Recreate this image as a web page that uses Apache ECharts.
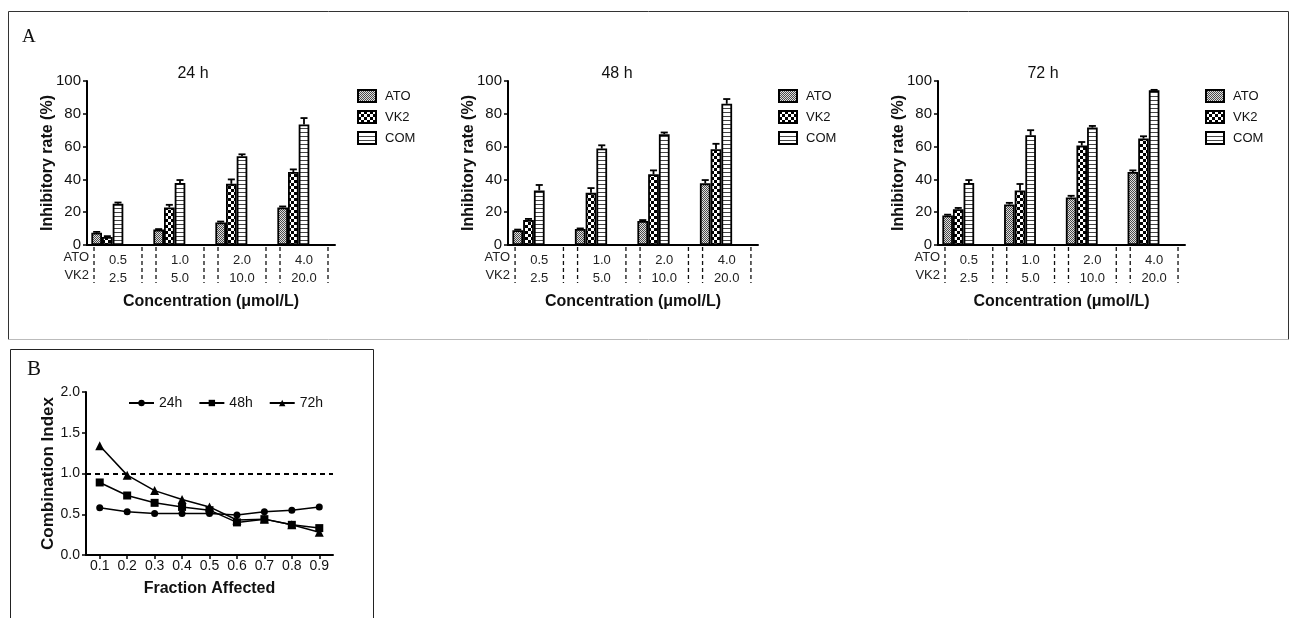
<!DOCTYPE html>
<html><head><meta charset="utf-8">
<script src="https://cdn.jsdelivr.net/npm/echarts@6/dist/echarts.min.js"></script>
<style>html,body{margin:0;padding:0;background:#fff}#c{width:1292px;height:618px}</style>
</head><body><div id="c"></div>
<script>
// ---------- DATA ----------
const atoDoses = ['0.5', '1.0', '2.0', '4.0'];
const vk2Doses = ['2.5', '5.0', '10.0', '20.0'];
const rowLabels = ['ATO', 'VK2'];
const timeTitles = ['24 h', '48 h', '72 h'];
const barNames = ['ATO', 'VK2', 'COM'];

const ato24 = [7.5, 9.4, 13.7, 22.9];
const vk224 = [4.9, 22.9, 37.3, 44.5];
const com24 = [25.1, 37.8, 54.1, 73.5];
const ato24Err = [0.5, 0.3, 0.6, 0.6];
const vk224Err = [0.5, 1.6, 2.7, 1.6];
const com24Err = [0.8, 1.8, 1.2, 3.9];

const ato48 = [9.0, 9.8, 14.7, 37.6];
const vk248 = [15.3, 31.8, 43.1, 58.4];
const com48 = [33.3, 58.8, 67.6, 86.1];
const ato48Err = [0.4, 0.3, 0.5, 2.0];
const vk248Err = [0.6, 2.9, 2.4, 3.3];
const com48Err = [3.3, 2.0, 1.0, 2.9];

const ato72 = [18.0, 24.7, 29.0, 44.5];
const vk272 = [21.8, 33.3, 60.6, 64.9];
const com72 = [37.8, 66.9, 71.6, 94.3];
const ato72Err = [0.5, 1.0, 1.0, 1.0];
const vk272Err = [0.8, 3.9, 2.2, 1.4];
const com72Err = [1.8, 3.1, 1.0, 0.3];

const fractionAffected = ['0.1', '0.2', '0.3', '0.4', '0.5', '0.6', '0.7', '0.8', '0.9'];
const ci24 = [0.58, 0.53, 0.51, 0.51, 0.51, 0.49, 0.53, 0.55, 0.59];
const ci48 = [0.89, 0.73, 0.64, 0.59, 0.55, 0.40, 0.44, 0.37, 0.33];
const ci72 = [1.34, 0.98, 0.79, 0.68, 0.59, 0.43, 0.44, 0.37, 0.28];
const ciNames = ['24h', '48h', '72h'];
const additivityLevel = 1.0;

// ---------- STYLE ----------
const FONT = '"Liberation Sans", Arial, sans-serif';
const SERIF = '"Liberation Serif", "Times New Roman", serif';
const INK = '#111';

function makePattern(w, h, draw) {
  const c = document.createElement('canvas');
  c.width = w; c.height = h;
  draw(c.getContext('2d'));
  return { image: c, repeat: 'repeat' };
}
const patATO = makePattern(4, 4, g => {
  g.fillStyle = '#e0e0e0'; g.fillRect(0, 0, 4, 4);
  g.fillStyle = '#4a4a4a';
  for (let y = 0; y < 4; y++) for (let x = 0; x < 4; x++) if ((x + y) % 2 === 0) g.fillRect(x, y, 1, 1);
});
const patVK2 = makePattern(6, 6, g => {
  g.fillStyle = '#fff'; g.fillRect(0, 0, 6, 6);
  g.fillStyle = '#000'; g.fillRect(0, 0, 3, 3); g.fillRect(3, 3, 3, 3);
});
const patCOM = makePattern(4, 4, g => {
  g.fillStyle = '#fff'; g.fillRect(0, 0, 4, 4);
  g.fillStyle = '#444'; g.fillRect(0, 0, 4, 1);
});
const patterns = [patATO, patVK2, patCOM];

const CAT_GAP = 0.14;   // bar category gap
const SLOTS = 5;        // 3 visible bars + 2 empty slots (bars sit left of centre)

const barPanels = [
  { left: 87, width: 248, title: 188, legend: 352, data: [ato24, vk224, com24], err: [ato24Err, vk224Err, com24Err] },
  { left: 508, width: 250, title: 612, legend: 773, data: [ato48, vk248, com48], err: [ato48Err, vk248Err, com48Err] },
  { left: 938, width: 247, title: 1038, legend: 1200, data: [ato72, vk272, com72], err: [ato72Err, vk272Err, com72Err] }
];

const grids = [], xAxes = [], yAxes = [], series = [], titles = [], legends = [];

function errRender(params, api) {
  const ci = api.value(0), si = api.value(1), v = api.value(2), e = api.value(3);
  const band = api.size([1, 0])[0];
  const w = band * (1 - CAT_GAP) / SLOTS;
  const cx = api.coord([ci, 0])[0] + (si - (SLOTS - 1) / 2) * w;
  const yTop = api.coord([ci, v + e])[1];
  const yBase = api.coord([ci, v])[1];
  const cap = w * 0.33;
  const st = { stroke: '#000', lineWidth: 1.8 };
  return { type: 'group', children: [
    { type: 'line', shape: { x1: cx, y1: yBase, x2: cx, y2: yTop }, style: st },
    { type: 'line', shape: { x1: cx - cap, y1: yTop, x2: cx + cap, y2: yTop }, style: st }
  ]};
}
function tableRender(params, api) {
  const idx = api.value(0);
  const c = api.coord([idx, 0]);
  const band = api.size([1, 0])[0];
  const half = band * 0.387;
  const y0 = c[1] + 2, y1 = c[1] + 38;
  const ds = { stroke: '#111', lineWidth: 1.3, lineDash: [4, 3] };
  const ch = [
    { type: 'line', shape: { x1: c[0] - half, y1: y0, x2: c[0] - half, y2: y1 }, style: ds },
    { type: 'line', shape: { x1: c[0] + half, y1: y0, x2: c[0] + half, y2: y1 }, style: ds }
  ];
  if (idx === 0) {
    const ax = c[0] - band / 2;
    rowLabels.forEach((t, k) => ch.push({ type: 'text', style: {
      text: t, x: ax + 2, y: c[1] + 12 + k * 18, align: 'right', verticalAlign: 'middle',
      font: '13px ' + FONT, fill: '#222' } }));
  }
  return { type: 'group', children: ch };
}

barPanels.forEach((p, gi) => {
  grids.push({ left: p.left, top: 81, width: p.width, height: 164 });
  xAxes.push({
    gridIndex: gi, type: 'category', data: atoDoses,
    axisLine: { lineStyle: { color: '#000', width: 2 } },
    axisTick: { show: false },
    axisLabel: { fontFamily: FONT, fontSize: 13, color: '#222', lineHeight: 18, margin: 6,
      formatter: (v, i) => v + '\n' + vk2Doses[i] },
    name: 'Concentration (\u03bcmol/L)', nameLocation: 'middle', nameGap: 49, nameMoveOverlap: false,
    nameTextStyle: { fontFamily: FONT, fontSize: 16, fontWeight: 'bold', color: INK }
  });
  yAxes.push({
    gridIndex: gi, type: 'value', min: 0, max: 100, interval: 20,
    axisLine: { show: true, lineStyle: { color: '#000', width: 2 } },
    axisTick: { show: true, length: 4, lineStyle: { width: 1.5, color: '#000' } },
    axisLabel: { fontFamily: FONT, fontSize: 15, color: INK, margin: 6 },
    splitLine: { show: false },
    name: 'Inhibitory rate (%)', nameLocation: 'middle', nameGap: 31, nameMoveOverlap: false,
    nameTextStyle: { fontFamily: FONT, fontSize: 16, fontWeight: 'bold', color: INK }
  });
  titles.push({ text: timeTitles[gi], left: p.title, top: 61, textAlign: 'center',
    textStyle: { fontFamily: FONT, fontSize: 16, fontWeight: 'normal', color: INK } });
  legends.push({ data: barNames, left: p.legend, top: 84, orient: 'vertical', icon: 'rect',
    itemWidth: 18, itemHeight: 12, itemGap: 7, selectedMode: false,
    textStyle: { fontFamily: FONT, fontSize: 13, color: INK, padding: [0, 0, 0, 4] } });
  barNames.forEach((n, si) => series.push({
    type: 'bar', name: n, xAxisIndex: gi, yAxisIndex: gi, data: p.data[si],
    barGap: '0%', barCategoryGap: (CAT_GAP * 100) + '%',
    itemStyle: { color: patterns[si], borderColor: '#000', borderWidth: 1.8 },
    silent: true
  }));
  for (let k = 0; k < SLOTS - 3; k++) series.push({
    type: 'bar', name: '_pad' + k, xAxisIndex: gi, yAxisIndex: gi, data: atoDoses.map(() => '-'),
    barGap: '0%', barCategoryGap: (CAT_GAP * 100) + '%', silent: true
  });
  const errData = [];
  barNames.forEach((n, si) => p.data[si].forEach((v, ci) => errData.push([ci, si, v, p.err[si][ci]])));
  series.push({ type: 'custom', name: '_err' + gi, xAxisIndex: gi, yAxisIndex: gi, data: errData,
    encode: { x: 0, y: 2 }, renderItem: errRender, z: 5, silent: true, clip: false });
  series.push({ type: 'custom', name: '_tab' + gi, xAxisIndex: gi, yAxisIndex: gi,
    data: atoDoses.map((d, i) => [i, 0]), encode: { x: 0, y: 1 },
    renderItem: tableRender, z: 5, silent: true, clip: false });
});

// Panel B
const gB = 3;
grids.push({ left: 86, top: 392, width: 247, height: 163 });
xAxes.push({
  gridIndex: gB, type: 'category', data: fractionAffected, boundaryGap: true,
  axisLine: { lineStyle: { color: '#000', width: 2 } },
  axisTick: { show: true, alignWithLabel: true, length: 4, lineStyle: { width: 1.5, color: '#000' } },
  axisLabel: { fontFamily: FONT, fontSize: 14, color: INK, margin: 4 },
  name: 'Fraction Affected', nameLocation: 'middle', nameGap: 26, nameMoveOverlap: false,
  nameTextStyle: { fontFamily: FONT, fontSize: 16, fontWeight: 'bold', color: INK }
});
yAxes.push({
  gridIndex: gB, type: 'value', min: 0, max: 2, interval: 0.5,
  axisLine: { show: true, lineStyle: { color: '#000', width: 2 } },
  axisTick: { show: true, length: 4, lineStyle: { width: 1.5, color: '#000' } },
  axisLabel: { fontFamily: FONT, fontSize: 14, color: INK, margin: 6, formatter: v => v.toFixed(1) },
  splitLine: { show: false },
  name: 'Combination Index', nameLocation: 'middle', nameGap: 29, nameMoveOverlap: false,
  nameTextStyle: { fontFamily: FONT, fontSize: 17, fontWeight: 'bold', color: INK }
});
const ciSets = [ci24, ci48, ci72];
const ciSymbols = [['circle', 7], ['rect', 8], ['triangle', 9]];
ciSets.forEach((d, i) => series.push({
  type: 'line', name: ciNames[i], xAxisIndex: gB, yAxisIndex: gB, data: d,
  symbol: ciSymbols[i][0], symbolSize: ciSymbols[i][1], showSymbol: true,
  itemStyle: { color: '#000' }, lineStyle: { color: '#000', width: 1.5 },
  z: 3 + i, silent: true,
  markLine: i === 0 ? { silent: true, symbol: 'none', label: { show: false },
    lineStyle: { color: '#000', type: [5, 4], width: 2 }, data: [{ yAxis: additivityLevel }] } : undefined
}));
legends.push({ data: ciNames, left: 123, top: 391, itemWidth: 25, itemHeight: 8, itemGap: 16,
  selectedMode: false, textStyle: { fontFamily: FONT, fontSize: 14, color: INK } });

const chart = echarts.init(document.getElementById('c'), null, { renderer: 'canvas' });
chart.setOption({
  backgroundColor: '#fff',
  animation: false,
  title: titles,
  legend: legends,
  grid: grids,
  xAxis: xAxes,
  yAxis: yAxes,
  series: series,
  graphic: [
    { type: 'polyline', shape: { points: [[8.5, 339.5], [8.5, 11.5], [1288.5, 11.5], [1288.5, 339.5]] },
      style: { fill: null, stroke: '#333', lineWidth: 1 }, silent: true },
    { type: 'line', shape: { x1: 8.5, y1: 339.5, x2: 1288.5, y2: 339.5 },
      style: { stroke: '#bbb', lineWidth: 1 }, silent: true },
    { type: 'polyline', shape: { points: [[10.5, 618], [10.5, 349.5], [373.5, 349.5], [373.5, 618]] },
      style: { fill: null, stroke: '#222', lineWidth: 1 }, silent: true },
    { type: 'text', left: 22, top: 28, style: { text: 'A', font: '19px ' + SERIF, fill: INK }, silent: true },
    { type: 'text', left: 27, top: 359, style: { text: 'B', font: '21px ' + SERIF, fill: INK }, silent: true }
  ]
});
</script>
</body></html>
